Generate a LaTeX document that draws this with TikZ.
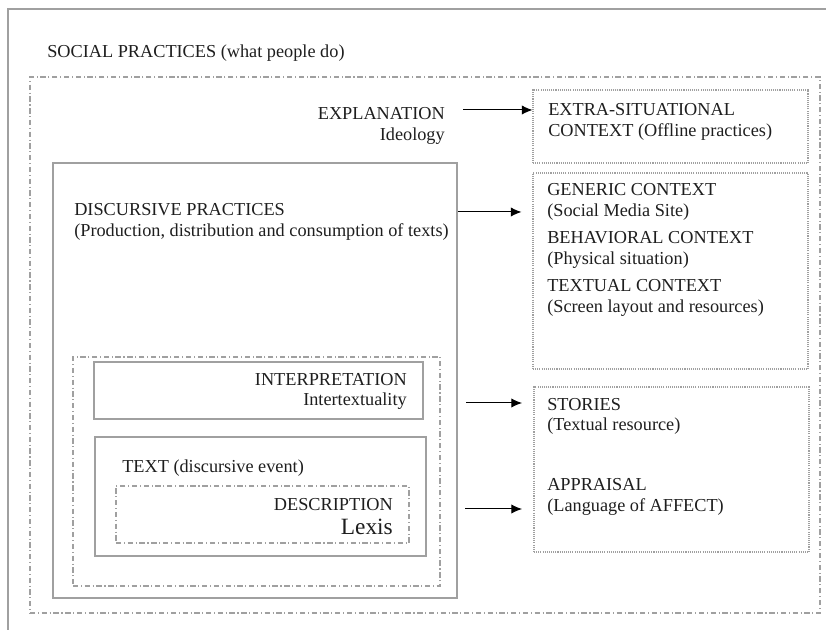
\documentclass[tikz,border=0pt]{standalone}
\usepackage{fontspec}
\setmainfont{Liberation Serif}
\newfontfamily\boxfont{Liberation Serif}
\usetikzlibrary{fit,arrows.meta}
\definecolor{boxgray}{RGB}{160,160,160}
\definecolor{inkgray}{RGB}{30,30,30}
\tikzset{
  solidbox/.style={draw=boxgray,line width=1.1pt,inner sep=0pt},
  dashdotbox/.style={draw=boxgray,line width=0.8pt,inner sep=0pt,
    dash pattern=on 4pt off 2pt on 0.8pt off 2pt},
  dotbox/.style={draw=boxgray,line width=0.8pt,inner sep=0pt,
    dash pattern=on 0.8pt off 0.8pt},
  label/.style={inner sep=0pt,text=inkgray,font=\boxfont\fontsize{13.7}{15.5}\selectfont},
  arr/.style={-{Latex[length=8pt,width=7pt]},line width=0.75pt,black}
}
\begin{document}
\begin{tikzpicture}[x=0.75pt,y=-0.75pt]
\useasboundingbox (0,0) rectangle (826,630);

% outer frame (only top and left edges show)
\draw[boxgray,line width=1.3pt] (8,630) -- (8,9) -- (826,9);

% social practices
\node[label,anchor=west] (social) at (47,53) {SOCIAL PRACTICES (what people do)};
\node[dashdotbox,fit={(30,77) (820,613)}] (socialbox) {};
\node[label,anchor=east,align=right] (expl) at (445,126) {EXPLANATION\\Ideology};

% discursive practices
\node[solidbox,fit={(53,163) (457,598)}] (disc) {};
\node[label,anchor=west,align=left] (disctext) at (74,222)
  {DISCURSIVE PRACTICES\\(Production, distribution and consumption of texts)};

% interpretation and text
\node[dashdotbox,fit={(73,357) (440,586)}] (inner) {};
\node[solidbox,fit={(94,362) (423,419)}] (interp) {};
\node[label,anchor=east,align=right] (interptext) at (407,391.5) {INTERPRETATION\\Intertextuality};
\node[solidbox,fit={(95,437) (426,556)}] (textbox) {};
\node[label,anchor=west] (texttext) at (122,468) {TEXT (discursive event)};
\node[dashdotbox,fit={(116,486) (409,543)}] (descr) {};
\node[label,anchor=east] (descrtext) at (393,505) {DESCRIPTION};
\node[label,anchor=east,font=\boxfont\fontsize{17.5}{19}\selectfont] (lexis) at (393,527) {Lexis};

% context boxes
\node[dotbox,fit={(533,90) (808,163)}] (extra) {};
\node[label,anchor=west,align=left] (extratext) at (548,122)
  {EXTRA-SITUATIONAL\\CONTEXT (Offline practices)};
\node[dotbox,fit={(533,173) (808,369)}] (generic) {};
\node[label,anchor=west,align=left] (generictext) at (547,202) {GENERIC CONTEXT\\(Social Media Site)};
\node[label,anchor=west,align=left] (behavtext) at (547,250) {BEHAVIORAL CONTEXT\\(Physical situation)};
\node[label,anchor=west,align=left] (textualtext) at (547,298) {TEXTUAL CONTEXT\\(Screen layout and resources)};
\node[dotbox,fit={(534,387) (809,552)}] (stories) {};
\node[label,anchor=west,align=left] (storiestext) at (547,416.5) {STORIES\\(Textual resource)};
\node[label,anchor=west,align=left] (appraisaltext) at (547,497) {APPRAISAL\\(Language of AFFECT)};

% arrows
\coordinate (explout) at (463,110);
\coordinate (discout) at (458,212);
\coordinate (interpout) at (466,403);
\coordinate (descrout) at (465,509);
\draw[arr] (explout) -- (extra.west |- explout);
\draw[arr,shorten >=8.25pt] (discout) -- (generic.west |- discout);
\draw[arr] (interpout) -- (522,403);
\draw[arr] (descrout) -- (522,509);

\end{tikzpicture}
\end{document}
